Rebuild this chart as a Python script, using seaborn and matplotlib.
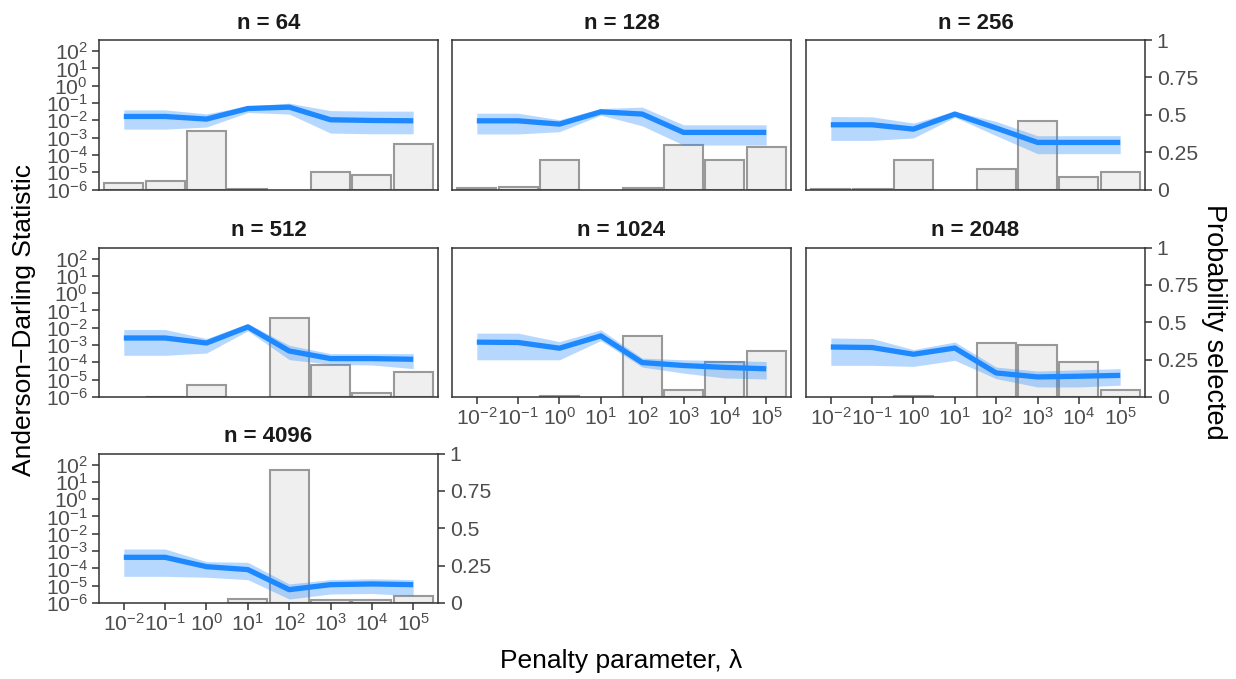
import numpy as np
import pandas as pd
import matplotlib
matplotlib.use("Agg")
import matplotlib.pyplot as plt
from matplotlib.ticker import NullLocator
import seaborn as sns

sns.set_theme(style="ticks")
plt.rcParams["font.family"] = ["Liberation Sans", "DejaVu Sans"]
plt.rcParams["mathtext.fontset"] = "custom"
plt.rcParams["mathtext.rm"] = "Liberation Sans"
plt.rcParams["mathtext.it"] = "Liberation Sans:italic"
plt.rcParams["mathtext.bf"] = "Liberation Sans:bold"

# ---- data -------------------------------------------------------------
sample_sizes = [64, 128, 256, 512, 1024, 2048, 4096]
lambda_exponents = [-2, -1, 0, 1, 2, 3, 4, 5]
lambda_labels = [f"$10^{{{e}}}$" for e in lambda_exponents]

# probability that each penalty value is selected (nan = never selected)
prob_selected = {
    64:   [0.041, 0.057, 0.390, 0.004, np.nan, 0.115, 0.097, 0.306],
    128:  [0.010, 0.015, 0.195, np.nan, 0.008, 0.300, 0.195, 0.285],
    256:  [0.005, 0.005, 0.200, np.nan, 0.135, 0.460, 0.082, 0.117],
    512:  [np.nan, 0.003, 0.078, np.nan, 0.530, 0.213, 0.027, 0.164],
    1024: [np.nan, np.nan, 0.005, np.nan, 0.410, 0.047, 0.237, 0.310],
    2048: [np.nan, np.nan, 0.005, np.nan, 0.363, 0.345, 0.231, 0.045],
    4096: [np.nan, np.nan, np.nan, 0.025, 0.890, 0.018, 0.020, 0.048],
}

# Anderson-Darling statistic (log10): median and interval bounds
ad_log10_mid = {
    64:   [-1.78, -1.78, -1.93, -1.32, -1.24, -1.97, -2.01, -2.03],
    128:  [-2.03, -2.03, -2.22, -1.51, -1.64, -2.70, -2.70, -2.70],
    256:  [-2.26, -2.26, -2.51, -1.64, -2.45, -3.28, -3.28, -3.28],
    512:  [-2.59, -2.59, -2.88, -1.95, -3.34, -3.78, -3.78, -3.82],
    1024: [-2.83, -2.85, -3.18, -2.47, -4.01, -4.18, -4.29, -4.37],
    2048: [-3.11, -3.14, -3.53, -3.17, -4.61, -4.84, -4.80, -4.75],
    4096: [-3.36, -3.36, -3.90, -4.07, -5.23, -4.94, -4.90, -4.94],
}
ad_log10_lo = {
    64:   [-2.51, -2.51, -2.39, -1.55, -1.64, -2.74, -2.78, -2.78],
    128:  [-2.79, -2.79, -2.66, -1.70, -2.32, -3.43, -3.43, -3.43],
    256:  [-3.16, -3.16, -3.02, -1.82, -2.89, -3.93, -3.93, -3.93],
    512:  [-3.59, -3.59, -3.46, -2.18, -3.84, -4.11, -4.15, -4.36],
    1024: [-3.85, -3.85, -3.85, -2.74, -4.27, -4.62, -4.90, -4.96],
    2048: [-4.17, -4.17, -4.23, -3.88, -4.94, -5.42, -5.42, -5.32],
    4096: [-4.46, -4.46, -4.51, -4.65, -5.77, -5.48, -5.45, -5.58],
}
ad_log10_hi = {
    64:   [-1.40, -1.40, -1.63, -1.17, -1.01, -1.44, -1.47, -1.47],
    128:  [-1.59, -1.59, -1.97, -1.32, -1.24, -2.26, -2.26, -2.26],
    256:  [-1.78, -1.80, -2.16, -1.49, -2.07, -2.89, -2.89, -2.89],
    512:  [-2.10, -2.10, -2.62, -1.76, -3.01, -3.49, -3.49, -3.49],
    1024: [-2.31, -2.31, -2.80, -2.12, -3.75, -3.85, -3.89, -3.95],
    2048: [-2.59, -2.62, -3.26, -2.82, -4.27, -4.50, -4.43, -4.36],
    4096: [-2.88, -2.88, -3.61, -3.65, -4.90, -4.65, -4.60, -4.65],
}

ad_tick_exponents = [2, 1, 0, -1, -2, -3, -4, -5, -6]
prob_ticks = [0, 0.25, 0.5, 0.75, 1]
prob_tick_labels = ["0", "0.25", "0.5", "0.75", "1"]

# ---- style ------------------------------------------------------------
LINE = "#1E88FF"
BAR_FILL = "#EFEFEF"
BAR_EDGE = "#999999"
FRAME = "#333333"
TICK_TXT = "#4D4D4D"
TICK_SIZE = 15.2

W, H = 1236, 679
fig = plt.figure(figsize=(W / 100, H / 100), dpi=100)
fig.patch.set_facecolor("white")

col_left = [99, 452, 806]
row_top = [40, 247.5, 453.5]
panel_w, panel_h = 339, 149.5
n_cols = 3

pos = np.arange(len(lambda_exponents))

for i, n in enumerate(sample_sizes):
    r, c = divmod(i, n_cols)
    is_last = i == len(sample_sizes) - 1
    left_col = c == 0
    right_col = (c == n_cols - 1) or is_last
    # x labels on panels with nothing beneath them
    has_below = (i + n_cols) < len(sample_sizes)

    ax = fig.add_axes([col_left[c] / W, 1 - (row_top[r] + panel_h) / H,
                       panel_w / W, panel_h / H])
    tw = ax.twinx()
    ax.set_zorder(tw.get_zorder() + 1)
    ax.patch.set_visible(False)
    tw.patch.set_facecolor("white")

    # bars: probability selected (right axis)
    bars = pd.DataFrame({"pos": pos, "prob": prob_selected[n]}).dropna()
    sns.barplot(data=bars, x="pos", y="prob", native_scale=True, width=0.95,
                color=BAR_FILL, edgecolor=BAR_EDGE, linewidth=1.5,
                saturation=1, errorbar=None, ax=tw)
    tw.set_ylim(0, 1)
    tw.set_yticks(prob_ticks)
    tw.set_yticklabels(prob_tick_labels)
    tw.set_ylabel("")
    tw.set_xlabel("")

    # line and ribbon: Anderson-Darling statistic (left log axis)
    ax.set_yscale("log")
    mid = 10.0 ** np.array(ad_log10_mid[n])
    lo = 10.0 ** np.array(ad_log10_lo[n])
    hi = 10.0 ** np.array(ad_log10_hi[n])
    ax.fill_between(pos, lo, hi, color=LINE, alpha=0.32, linewidth=0)
    sns.lineplot(x=pos, y=mid, color=LINE, linewidth=3.8, ax=ax,
                 solid_capstyle="butt")
    ax.set_ylim(1e-6, 10 ** 2.64)
    ax.set_yticks([10.0 ** e for e in ad_tick_exponents])
    ax.set_yticklabels([f"$10^{{{e}}}$" for e in ad_tick_exponents])
    ax.yaxis.set_minor_locator(NullLocator())

    ax.set_xlim(-0.6, 7.6)
    ax.set_xticks(pos)
    ax.set_xticklabels(lambda_labels)
    ax.set_xlabel("")
    ax.set_ylabel("")

    ax.tick_params(axis="both", length=5, width=1.1, color=FRAME,
                   labelsize=TICK_SIZE, labelcolor=TICK_TXT)
    tw.tick_params(axis="y", length=5, width=1.1, color=FRAME,
                   labelsize=TICK_SIZE, labelcolor=TICK_TXT, pad=3.5)
    ax.tick_params(axis="y", pad=3)
    ax.tick_params(axis="x", pad=2)

    if not left_col:
        ax.tick_params(axis="y", left=False, labelleft=False)
    if not right_col:
        tw.tick_params(axis="y", right=False, labelright=False)
    if has_below:
        ax.tick_params(axis="x", bottom=False, labelbottom=False)
    tw.tick_params(axis="x", bottom=False, labelbottom=False)

    for sp in ax.spines.values():
        sp.set_visible(True)
        sp.set_color(FRAME)
        sp.set_linewidth(1.1)
    for sp in tw.spines.values():
        sp.set_visible(False)

    ax.set_title(f"n = {n}", fontsize=16, fontweight="bold", pad=8,
                 color="#1A1A1A")

fig.text(24 / W, 1 - 320 / H, "Anderson\u2212Darling Statistic", rotation=90,
         ha="center", va="center", fontsize=19, color="black")
fig.text(1214 / W, 1 - 322 / H, "Probability selected", rotation=270,
         ha="center", va="center", fontsize=19.5, color="black")
fig.text(621 / W, 1 - 661 / H, "Penalty parameter, \u03bb", ha="center",
         va="center", fontsize=19, color="black")

fig.savefig("out.png", dpi=100, facecolor="white")
